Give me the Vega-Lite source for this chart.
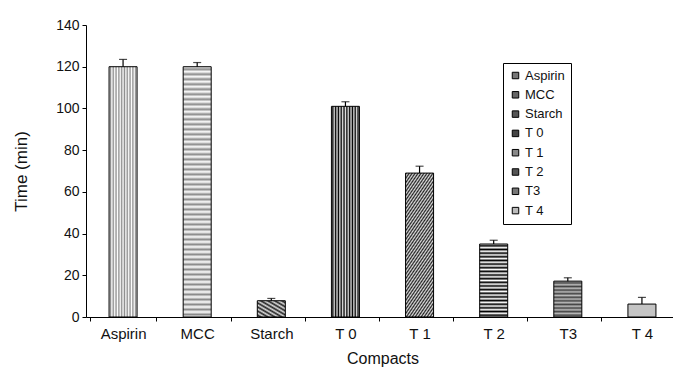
{
  "$schema": "https://vega.github.io/schema/vega-lite/v6.json",
  "autosize": "none",
  "width": 587,
  "height": 292,
  "padding": {"left": 86, "top": 25, "right": 0, "bottom": 54},
  "config": {
    "view": {"stroke": null},
    "font": "Liberation Sans",
    "axis": {"domainColor": "black", "tickColor": "black", "labelColor": "#111", "titleColor": "#111", "labelFont": "Liberation Sans", "titleFont": "Liberation Sans", "titleFontWeight": "normal", "grid": false}
  },
  "data": {
    "values": [
      {"c": "Aspirin", "v": 120, "hi": 123.5},
      {"c": "MCC", "v": 120, "hi": 122},
      {"c": "Starch", "v": 7.8, "hi": 8.9},
      {"c": "T 0", "v": 101, "hi": 103.2},
      {"c": "T 1", "v": 69, "hi": 72.3},
      {"c": "T 2", "v": 35, "hi": 36.8},
      {"c": "T3", "v": 17.2, "hi": 18.8},
      {"c": "T 4", "v": 6.2, "hi": 9.4}
    ]
  },
  "encoding": {
    "x": {
      "field": "c", "type": "nominal", "sort": null,
      "scale": {"domain": ["Aspirin", "MCC", "Starch", "T 0", "T 1", "T 2", "T3", "T 4"], "range": [0, 593]},
      "axis": {"title": "Compacts", "titleFontSize": 16, "titlePadding": 9, "labelFontSize": 15, "labelAngle": 0, "labelPadding": 5, "tickSize": 4, "tickBand": "extent"}
    }
  },
  "layer": [
    {
      "mark": {"type": "bar", "width": {"band": 0.42}, "stroke": "black", "strokeWidth": 1},
      "encoding": {
        "y": {"field": "v", "type": "quantitative", "scale": {"domain": [0, 140]},
          "axis": {"title": "Time (min)", "titleFontSize": 17, "titlePadding": 25, "labelFontSize": 14, "labelPadding": 3, "tickSize": 4, "values": [0, 20, 40, 60, 80, 100, 120, 140]}},
        "fill": {
          "condition": [
            {"test": "datum.c === 'Aspirin'", "value": {"gradient": "linear", "x1": 0, "y1": 0, "x2": 1, "y2": 0, "stops": [
              {"offset": 0, "color": "#fff"}, {"offset": 0.05, "color": "#8c8c8c"}, {"offset": 0.1, "color": "#fff"}, {"offset": 0.15, "color": "#8c8c8c"}, {"offset": 0.2, "color": "#fff"}, {"offset": 0.25, "color": "#8c8c8c"}, {"offset": 0.3, "color": "#fff"}, {"offset": 0.35, "color": "#8c8c8c"}, {"offset": 0.4, "color": "#fff"}, {"offset": 0.45, "color": "#8c8c8c"}, {"offset": 0.5, "color": "#fff"}, {"offset": 0.55, "color": "#8c8c8c"}, {"offset": 0.6, "color": "#fff"}, {"offset": 0.65, "color": "#8c8c8c"}, {"offset": 0.7, "color": "#fff"}, {"offset": 0.75, "color": "#8c8c8c"}, {"offset": 0.8, "color": "#fff"}, {"offset": 0.85, "color": "#8c8c8c"}, {"offset": 0.9, "color": "#fff"}, {"offset": 0.95, "color": "#8c8c8c"}, {"offset": 1, "color": "#fff"}]}},
            {"test": "datum.c === 'MCC'", "value": {"gradient": "linear", "x1": 0, "y1": 0, "x2": 0, "y2": 1, "stops": [
              {"offset": 0, "color": "#fff"}, {"offset": 0.01, "color": "#8a8a8a"}, {"offset": 0.02, "color": "#fff"}, {"offset": 0.03, "color": "#8a8a8a"}, {"offset": 0.04, "color": "#fff"}, {"offset": 0.05, "color": "#8a8a8a"}, {"offset": 0.06, "color": "#fff"}, {"offset": 0.07, "color": "#8a8a8a"}, {"offset": 0.08, "color": "#fff"}, {"offset": 0.09, "color": "#8a8a8a"},
              {"offset": 0.1, "color": "#fff"}, {"offset": 0.11, "color": "#8a8a8a"}, {"offset": 0.12, "color": "#fff"}, {"offset": 0.13, "color": "#8a8a8a"}, {"offset": 0.14, "color": "#fff"}, {"offset": 0.15, "color": "#8a8a8a"}, {"offset": 0.16, "color": "#fff"}, {"offset": 0.17, "color": "#8a8a8a"}, {"offset": 0.18, "color": "#fff"}, {"offset": 0.19, "color": "#8a8a8a"},
              {"offset": 0.2, "color": "#fff"}, {"offset": 0.21, "color": "#8a8a8a"}, {"offset": 0.22, "color": "#fff"}, {"offset": 0.23, "color": "#8a8a8a"}, {"offset": 0.24, "color": "#fff"}, {"offset": 0.25, "color": "#8a8a8a"}, {"offset": 0.26, "color": "#fff"}, {"offset": 0.27, "color": "#8a8a8a"}, {"offset": 0.28, "color": "#fff"}, {"offset": 0.29, "color": "#8a8a8a"},
              {"offset": 0.3, "color": "#fff"}, {"offset": 0.31, "color": "#8a8a8a"}, {"offset": 0.32, "color": "#fff"}, {"offset": 0.33, "color": "#8a8a8a"}, {"offset": 0.34, "color": "#fff"}, {"offset": 0.35, "color": "#8a8a8a"}, {"offset": 0.36, "color": "#fff"}, {"offset": 0.37, "color": "#8a8a8a"}, {"offset": 0.38, "color": "#fff"}, {"offset": 0.39, "color": "#8a8a8a"},
              {"offset": 0.4, "color": "#fff"}, {"offset": 0.41, "color": "#8a8a8a"}, {"offset": 0.42, "color": "#fff"}, {"offset": 0.43, "color": "#8a8a8a"}, {"offset": 0.44, "color": "#fff"}, {"offset": 0.45, "color": "#8a8a8a"}, {"offset": 0.46, "color": "#fff"}, {"offset": 0.47, "color": "#8a8a8a"}, {"offset": 0.48, "color": "#fff"}, {"offset": 0.49, "color": "#8a8a8a"},
              {"offset": 0.5, "color": "#fff"}, {"offset": 0.51, "color": "#8a8a8a"}, {"offset": 0.52, "color": "#fff"}, {"offset": 0.53, "color": "#8a8a8a"}, {"offset": 0.54, "color": "#fff"}, {"offset": 0.55, "color": "#8a8a8a"}, {"offset": 0.56, "color": "#fff"}, {"offset": 0.57, "color": "#8a8a8a"}, {"offset": 0.58, "color": "#fff"}, {"offset": 0.59, "color": "#8a8a8a"},
              {"offset": 0.6, "color": "#fff"}, {"offset": 0.61, "color": "#8a8a8a"}, {"offset": 0.62, "color": "#fff"}, {"offset": 0.63, "color": "#8a8a8a"}, {"offset": 0.64, "color": "#fff"}, {"offset": 0.65, "color": "#8a8a8a"}, {"offset": 0.66, "color": "#fff"}, {"offset": 0.67, "color": "#8a8a8a"}, {"offset": 0.68, "color": "#fff"}, {"offset": 0.69, "color": "#8a8a8a"},
              {"offset": 0.7, "color": "#fff"}, {"offset": 0.71, "color": "#8a8a8a"}, {"offset": 0.72, "color": "#fff"}, {"offset": 0.73, "color": "#8a8a8a"}, {"offset": 0.74, "color": "#fff"}, {"offset": 0.75, "color": "#8a8a8a"}, {"offset": 0.76, "color": "#fff"}, {"offset": 0.77, "color": "#8a8a8a"}, {"offset": 0.78, "color": "#fff"}, {"offset": 0.79, "color": "#8a8a8a"},
              {"offset": 0.8, "color": "#fff"}, {"offset": 0.81, "color": "#8a8a8a"}, {"offset": 0.82, "color": "#fff"}, {"offset": 0.83, "color": "#8a8a8a"}, {"offset": 0.84, "color": "#fff"}, {"offset": 0.85, "color": "#8a8a8a"}, {"offset": 0.86, "color": "#fff"}, {"offset": 0.87, "color": "#8a8a8a"}, {"offset": 0.88, "color": "#fff"}, {"offset": 0.89, "color": "#8a8a8a"},
              {"offset": 0.9, "color": "#fff"}, {"offset": 0.91, "color": "#8a8a8a"}, {"offset": 0.92, "color": "#fff"}, {"offset": 0.93, "color": "#8a8a8a"}, {"offset": 0.94, "color": "#fff"}, {"offset": 0.95, "color": "#8a8a8a"}, {"offset": 0.96, "color": "#fff"}, {"offset": 0.97, "color": "#8a8a8a"}, {"offset": 0.98, "color": "#fff"}, {"offset": 0.99, "color": "#8a8a8a"}, {"offset": 1, "color": "#fff"}]}},
            {"test": "datum.c === 'Starch'", "value": {"gradient": "linear", "x1": 1, "y1": 0, "x2": 0, "y2": 1, "stops": [
              {"offset": 0, "color": "#ddd"}, {"offset": 0.0625, "color": "#222"}, {"offset": 0.125, "color": "#ddd"}, {"offset": 0.1875, "color": "#222"}, {"offset": 0.25, "color": "#ddd"}, {"offset": 0.3125, "color": "#222"}, {"offset": 0.375, "color": "#ddd"}, {"offset": 0.4375, "color": "#222"}, {"offset": 0.5, "color": "#ddd"}, {"offset": 0.5625, "color": "#222"}, {"offset": 0.625, "color": "#ddd"}, {"offset": 0.6875, "color": "#222"}, {"offset": 0.75, "color": "#ddd"}, {"offset": 0.8125, "color": "#222"}, {"offset": 0.875, "color": "#ddd"}, {"offset": 0.9375, "color": "#222"}, {"offset": 1, "color": "#ddd"}]}},
            {"test": "datum.c === 'T 0'", "value": {"gradient": "linear", "x1": 0, "y1": 0, "x2": 1, "y2": 0, "stops": [
              {"offset": 0, "color": "#e8e8e8"}, {"offset": 0.05, "color": "#000"}, {"offset": 0.1, "color": "#e8e8e8"}, {"offset": 0.15, "color": "#000"}, {"offset": 0.2, "color": "#e8e8e8"}, {"offset": 0.25, "color": "#000"}, {"offset": 0.3, "color": "#e8e8e8"}, {"offset": 0.35, "color": "#000"}, {"offset": 0.4, "color": "#e8e8e8"}, {"offset": 0.45, "color": "#000"}, {"offset": 0.5, "color": "#e8e8e8"}, {"offset": 0.55, "color": "#000"}, {"offset": 0.6, "color": "#e8e8e8"}, {"offset": 0.65, "color": "#000"}, {"offset": 0.7, "color": "#e8e8e8"}, {"offset": 0.75, "color": "#000"}, {"offset": 0.8, "color": "#e8e8e8"}, {"offset": 0.85, "color": "#000"}, {"offset": 0.9, "color": "#e8e8e8"}, {"offset": 0.95, "color": "#000"}, {"offset": 1, "color": "#e8e8e8"}]}},
            {"test": "datum.c === 'T 1'", "value": {"gradient": "linear", "x1": -0.1, "y1": -0.1, "x2": 0.3, "y2": 1.3, "stops": [
              {"offset": 0, "color": "#e0e0e0"}, {"offset": 0.01, "color": "#222"}, {"offset": 0.02, "color": "#e0e0e0"}, {"offset": 0.03, "color": "#222"}, {"offset": 0.04, "color": "#e0e0e0"}, {"offset": 0.05, "color": "#222"}, {"offset": 0.06, "color": "#e0e0e0"}, {"offset": 0.07, "color": "#222"}, {"offset": 0.08, "color": "#e0e0e0"}, {"offset": 0.09, "color": "#222"},
              {"offset": 0.1, "color": "#e0e0e0"}, {"offset": 0.11, "color": "#222"}, {"offset": 0.12, "color": "#e0e0e0"}, {"offset": 0.13, "color": "#222"}, {"offset": 0.14, "color": "#e0e0e0"}, {"offset": 0.15, "color": "#222"}, {"offset": 0.16, "color": "#e0e0e0"}, {"offset": 0.17, "color": "#222"}, {"offset": 0.18, "color": "#e0e0e0"}, {"offset": 0.19, "color": "#222"},
              {"offset": 0.2, "color": "#e0e0e0"}, {"offset": 0.21, "color": "#222"}, {"offset": 0.22, "color": "#e0e0e0"}, {"offset": 0.23, "color": "#222"}, {"offset": 0.24, "color": "#e0e0e0"}, {"offset": 0.25, "color": "#222"}, {"offset": 0.26, "color": "#e0e0e0"}, {"offset": 0.27, "color": "#222"}, {"offset": 0.28, "color": "#e0e0e0"}, {"offset": 0.29, "color": "#222"},
              {"offset": 0.3, "color": "#e0e0e0"}, {"offset": 0.31, "color": "#222"}, {"offset": 0.32, "color": "#e0e0e0"}, {"offset": 0.33, "color": "#222"}, {"offset": 0.34, "color": "#e0e0e0"}, {"offset": 0.35, "color": "#222"}, {"offset": 0.36, "color": "#e0e0e0"}, {"offset": 0.37, "color": "#222"}, {"offset": 0.38, "color": "#e0e0e0"}, {"offset": 0.39, "color": "#222"},
              {"offset": 0.4, "color": "#e0e0e0"}, {"offset": 0.41, "color": "#222"}, {"offset": 0.42, "color": "#e0e0e0"}, {"offset": 0.43, "color": "#222"}, {"offset": 0.44, "color": "#e0e0e0"}, {"offset": 0.45, "color": "#222"}, {"offset": 0.46, "color": "#e0e0e0"}, {"offset": 0.47, "color": "#222"}, {"offset": 0.48, "color": "#e0e0e0"}, {"offset": 0.49, "color": "#222"},
              {"offset": 0.5, "color": "#e0e0e0"}, {"offset": 0.51, "color": "#222"}, {"offset": 0.52, "color": "#e0e0e0"}, {"offset": 0.53, "color": "#222"}, {"offset": 0.54, "color": "#e0e0e0"}, {"offset": 0.55, "color": "#222"}, {"offset": 0.56, "color": "#e0e0e0"}, {"offset": 0.57, "color": "#222"}, {"offset": 0.58, "color": "#e0e0e0"}, {"offset": 0.59, "color": "#222"},
              {"offset": 0.6, "color": "#e0e0e0"}, {"offset": 0.61, "color": "#222"}, {"offset": 0.62, "color": "#e0e0e0"}, {"offset": 0.63, "color": "#222"}, {"offset": 0.64, "color": "#e0e0e0"}, {"offset": 0.65, "color": "#222"}, {"offset": 0.66, "color": "#e0e0e0"}, {"offset": 0.67, "color": "#222"}, {"offset": 0.68, "color": "#e0e0e0"}, {"offset": 0.69, "color": "#222"},
              {"offset": 0.7, "color": "#e0e0e0"}, {"offset": 0.71, "color": "#222"}, {"offset": 0.72, "color": "#e0e0e0"}, {"offset": 0.73, "color": "#222"}, {"offset": 0.74, "color": "#e0e0e0"}, {"offset": 0.75, "color": "#222"}, {"offset": 0.76, "color": "#e0e0e0"}, {"offset": 0.77, "color": "#222"}, {"offset": 0.78, "color": "#e0e0e0"}, {"offset": 0.79, "color": "#222"},
              {"offset": 0.8, "color": "#e0e0e0"}, {"offset": 0.81, "color": "#222"}, {"offset": 0.82, "color": "#e0e0e0"}, {"offset": 0.83, "color": "#222"}, {"offset": 0.84, "color": "#e0e0e0"}, {"offset": 0.85, "color": "#222"}, {"offset": 0.86, "color": "#e0e0e0"}, {"offset": 0.87, "color": "#222"}, {"offset": 0.88, "color": "#e0e0e0"}, {"offset": 0.89, "color": "#222"},
              {"offset": 0.9, "color": "#e0e0e0"}, {"offset": 0.91, "color": "#222"}, {"offset": 0.92, "color": "#e0e0e0"}, {"offset": 0.93, "color": "#222"}, {"offset": 0.94, "color": "#e0e0e0"}, {"offset": 0.95, "color": "#222"}, {"offset": 0.96, "color": "#e0e0e0"}, {"offset": 0.97, "color": "#222"}, {"offset": 0.98, "color": "#e0e0e0"}, {"offset": 0.99, "color": "#222"}, {"offset": 1, "color": "#e0e0e0"}]}},
            {"test": "datum.c === 'T 2'", "value": {"gradient": "linear", "x1": 0, "y1": 0, "x2": 0, "y2": 1, "stops": [
              {"offset": 0, "color": "#fff"}, {"offset": 0.025, "color": "#000"}, {"offset": 0.05, "color": "#fff"}, {"offset": 0.075, "color": "#000"}, {"offset": 0.1, "color": "#fff"}, {"offset": 0.125, "color": "#000"}, {"offset": 0.15, "color": "#fff"}, {"offset": 0.175, "color": "#000"}, {"offset": 0.2, "color": "#fff"}, {"offset": 0.225, "color": "#000"},
              {"offset": 0.25, "color": "#fff"}, {"offset": 0.275, "color": "#000"}, {"offset": 0.3, "color": "#fff"}, {"offset": 0.325, "color": "#000"}, {"offset": 0.35, "color": "#fff"}, {"offset": 0.375, "color": "#000"}, {"offset": 0.4, "color": "#fff"}, {"offset": 0.425, "color": "#000"}, {"offset": 0.45, "color": "#fff"}, {"offset": 0.475, "color": "#000"},
              {"offset": 0.5, "color": "#fff"}, {"offset": 0.525, "color": "#000"}, {"offset": 0.55, "color": "#fff"}, {"offset": 0.575, "color": "#000"}, {"offset": 0.6, "color": "#fff"}, {"offset": 0.625, "color": "#000"}, {"offset": 0.65, "color": "#fff"}, {"offset": 0.675, "color": "#000"}, {"offset": 0.7, "color": "#fff"}, {"offset": 0.725, "color": "#000"},
              {"offset": 0.75, "color": "#fff"}, {"offset": 0.775, "color": "#000"}, {"offset": 0.8, "color": "#fff"}, {"offset": 0.825, "color": "#000"}, {"offset": 0.85, "color": "#fff"}, {"offset": 0.875, "color": "#000"}, {"offset": 0.9, "color": "#fff"}, {"offset": 0.925, "color": "#000"}, {"offset": 0.95, "color": "#fff"}, {"offset": 0.975, "color": "#000"}, {"offset": 1, "color": "#fff"}]}},
            {"test": "datum.c === 'T3'", "value": {"gradient": "linear", "x1": 0, "y1": 0, "x2": 0, "y2": 1, "stops": [
              {"offset": 0, "color": "#bbb"}, {"offset": 0.05, "color": "#444"}, {"offset": 0.1, "color": "#bbb"}, {"offset": 0.15, "color": "#444"}, {"offset": 0.2, "color": "#bbb"}, {"offset": 0.25, "color": "#444"}, {"offset": 0.3, "color": "#bbb"}, {"offset": 0.35, "color": "#444"}, {"offset": 0.4, "color": "#bbb"}, {"offset": 0.45, "color": "#444"}, {"offset": 0.5, "color": "#bbb"}, {"offset": 0.55, "color": "#444"}, {"offset": 0.6, "color": "#bbb"}, {"offset": 0.65, "color": "#444"}, {"offset": 0.7, "color": "#bbb"}, {"offset": 0.75, "color": "#444"}, {"offset": 0.8, "color": "#bbb"}, {"offset": 0.85, "color": "#444"}, {"offset": 0.9, "color": "#bbb"}, {"offset": 0.95, "color": "#444"}, {"offset": 1, "color": "#bbb"}]}}
          ],
          "value": "#c4c4c4"
        }
      }
    },
    {
      "mark": {"type": "rule", "color": "black", "strokeWidth": 1.2},
      "encoding": {"y": {"field": "v", "type": "quantitative"}, "y2": {"field": "hi"}}
    },
    {
      "mark": {"type": "tick", "color": "black", "size": 8, "thickness": 1.2, "orient": "horizontal"},
      "encoding": {"y": {"field": "hi", "type": "quantitative"}}
    },
    {
      "mark": {"type": "square", "opacity": 0},
      "encoding": {
        "y": {"field": "v", "type": "quantitative"},
        "color": {
          "field": "c", "type": "nominal",
          "scale": {"domain": ["Aspirin", "MCC", "Starch", "T 0", "T 1", "T 2", "T3", "T 4"], "range": ["#777", "#666", "#555", "#444", "#888", "#555", "#777", "#bbb"]},
          "legend": {"orient": "none", "legendX": 417, "legendY": 38, "title": null, "strokeColor": "black", "fillColor": "white", "padding": 6, "labelFontSize": 13, "labelColor": "#111", "labelFont": "Liberation Sans", "symbolSize": 42, "symbolType": "square", "symbolStrokeColor": "black", "symbolStrokeWidth": 1, "symbolOpacity": 1, "symbolFillColor": null, "rowPadding": 5.3, "labelOffset": 3}
        }
      }
    }
  ]
}
